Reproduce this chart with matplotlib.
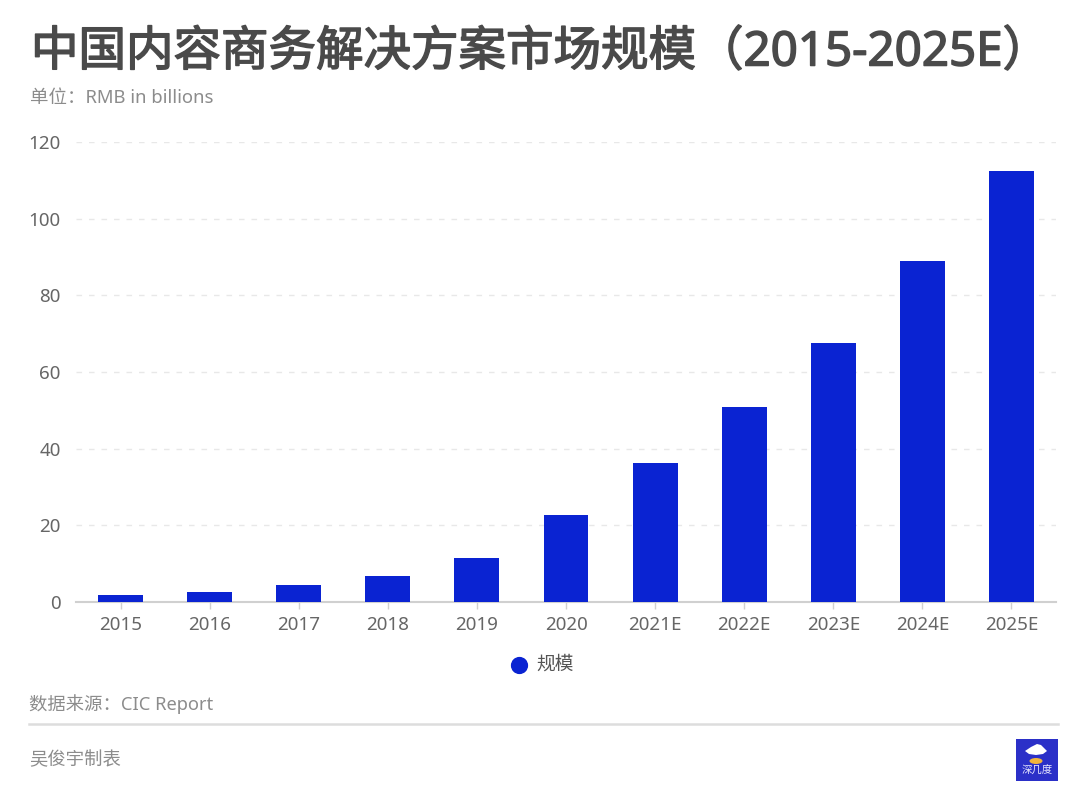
import matplotlib
matplotlib.use('Agg')
import matplotlib.pyplot as plt
import matplotlib.patheffects as pe
from matplotlib.patches import Rectangle, Ellipse, Polygon

plt.rcParams['font.family'] = ['Noto Sans', 'Noto Sans CJK SC', 'DejaVu Sans']

years = ['2015', '2016', '2017', '2018', '2019', '2020', '2021E', '2022E', '2023E', '2024E', '2025E']
scale = [1.9, 2.5, 4.4, 6.8, 11.5, 22.6, 36.2, 50.8, 67.5, 89.0, 112.5]
y_ticks = [0, 20, 40, 60, 80, 100, 120]

W, H = 1080, 802
fig = plt.figure(figsize=(W / 100, H / 100), dpi=100, facecolor='white')


def fx(px):
    return px / W


def fy(py):
    return 1 - py / H


ax = fig.add_axes([fx(76), fy(602), (1056 - 76) / W, (602 - 142) / H])
ax.bar(range(len(years)), scale, width=0.505, color='#0a23d2', zorder=3)
ax.set_xlim(-0.5, len(years) - 0.5)
ax.set_ylim(0, 120)
ax.set_xticks(range(len(years)))
ax.set_xticklabels(years)
ax.set_yticks(y_ticks)
ax.tick_params(axis='x', length=5, width=1, color='#d0d0d0', labelsize=13.5, labelcolor='#666666', pad=5)
ax.tick_params(axis='y', length=0, labelsize=13.5, labelcolor='#666666', pad=11)
ax.grid(axis='y', color='#e8e8e8', linestyle=(0, (4, 5)), linewidth=1, zorder=0)
ax.set_axisbelow(True)
for s in ['top', 'right', 'left']:
    ax.spines[s].set_visible(False)
ax.spines['bottom'].set_color('#d0d0d0')
ax.spines['bottom'].set_linewidth(1.5)

# title and notes, thin outline stands in for a medium weight
title = fig.text(fx(31), fy(53), '中国内容商务解决方案市场规模（2015-2025E）', fontsize=34.2,
                 color='#4a4a4a', va='center', ha='left')
title.set_path_effects([pe.withStroke(linewidth=1.1, foreground='#4a4a4a')])
fig.text(fx(30), fy(98), '单位：RMB in billions', fontsize=13.3, color='#8c8c8c', va='center', ha='left')

# legend
ax.scatter([], [], color='#0a23d2', s=130, label='规模')
fig.legend(*ax.get_legend_handles_labels(), loc='center', bbox_to_anchor=(fx(537), fy(665)), frameon=False,
           fontsize=13.5, labelcolor='#555555', handletextpad=-0.1)

# footer
fig.text(fx(29), fy(704), '数据来源：CIC Report', fontsize=13.2, color='#8c8c8c', va='center', ha='left')
fig.add_artist(plt.Line2D([fx(29), fx(1058)], [fy(724), fy(724)], color='#dddddd', linewidth=1.8))
fig.text(fx(29), fy(760), '吴俊宇制表', fontsize=13.2, color='#8c8c8c', va='center', ha='left')

# logo
tr = fig.transFigure
fig.add_artist(Rectangle((fx(1016), fy(781)), 42 / W, 42 / H, transform=tr, color='#2b30c8', lw=0))
fig.add_artist(Polygon([(fx(1025), fy(751)), (fx(1031), fy(747)), (fx(1037), fy(744)), (fx(1041), fy(745)),
                       (fx(1047), fy(751)), (fx(1043), fy(754)), (fx(1036), fy(755)), (fx(1029), fy(754))],
                       closed=True, transform=tr, color='white', lw=0))
fig.add_artist(Ellipse((fx(1036), fy(761)), 13 / W, 6 / H, transform=tr, color='#f2b53c', lw=0))
fig.text(fx(1037), fy(771), '深几度', fontsize=7.5, color='#e8e8ff', va='center', ha='center')

fig.savefig('out.png', dpi=100)
